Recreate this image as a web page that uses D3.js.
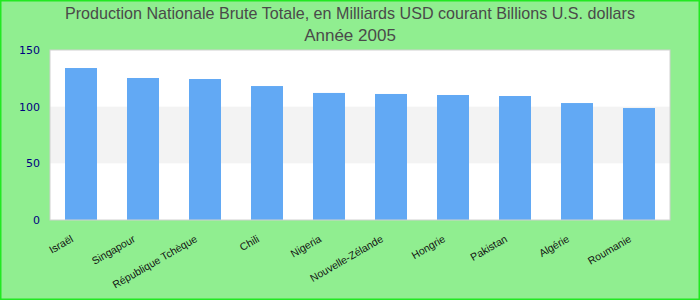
<!DOCTYPE html>
<html>
<head>
<meta charset="utf-8">
<script src="https://cdn.jsdelivr.net/npm/d3@7"></script>
<style>
  body { margin: 0; background: #fff; }
  svg { display: block; }
</style>
</head>
<body>
<div id="chart"></div>
<script>
// Chart data
let countries = ["Israël", "Singapour", "République Tchèque", "Chili", "Nigeria",
    "Nouvelle-Zélande", "Hongrie", "Pakistan", "Algérie", "Roumanie"];
let gdpValues = [134.1, 125.3, 124.4, 118.2, 112.1, 111.2, 110.3, 109.4, 103.2, 98.8];
let yTicks = [0, 50, 100, 150];
let titleLines = ["Production Nationale Brute Totale, en Milliards USD courant Billions U.S. dollars",
    "Année 2005"];

let width = 700, height = 300;
let margin = {top: 50, right: 30, bottom: 80, left: 50};
let plotW = width - margin.left - margin.right;
let plotH = height - margin.top - margin.bottom;

let svg = d3.select("#chart").append("svg")
    .attr("width", width)
    .attr("height", height);

// Background + frame
svg.append("rect")
    .attr("x", 0.5).attr("y", 0.5)
    .attr("width", width - 1).attr("height", height - 1)
    .attr("fill", "#90ee90")
    .attr("stroke", "#22e822")
    .attr("stroke-width", 2);

// Title (condensed first line)
svg.selectAll(".title")
    .data(titleLines)
    .enter().append("text")
        .attr("class", "title")
        .attr("x", width / 2)
        .attr("y", function(d, i) { return 19 + i * 22; })
        .attr("text-anchor", "middle")
        .attr("font-family", "Liberation Sans, Arial, sans-serif")
        .attr("font-size", "17px")
        .attr("fill", "#4a4a4a")
        .attr("textLength", function(d, i) { return i == 0 ? 570 : null; })
        .attr("lengthAdjust", "spacingAndGlyphs")
        .text(function(d) { return d; });

let g = svg.append("g")
    .attr("transform", "translate(" + margin.left + "," + margin.top + ")");

let x = d3.scaleBand()
    .domain(countries)
    .range([0, plotW])
    .paddingInner(0.484)
    .paddingOuter(0.242);

let y = d3.scaleLinear()
    .domain([0, 150])
    .range([plotH, 0]);

// Plot area with alternating band
g.append("rect")
    .attr("width", plotW)
    .attr("height", plotH)
    .attr("fill", "#fff");

g.append("rect")
    .attr("x", 0)
    .attr("y", y(100))
    .attr("width", plotW)
    .attr("height", y(50) - y(100))
    .attr("fill", "#f3f3f3");

// Bars
g.selectAll(".bar")
    .data(countries)
    .enter().append("rect")
        .attr("class", "bar")
        .attr("x", function(d) { return x(d); })
        .attr("y", function(d, i) { return y(gdpValues[i]); })
        .attr("width", x.bandwidth())
        .attr("height", function(d, i) { return plotH - y(gdpValues[i]); })
        .attr("fill", "#62a9f4");

g.append("rect")
    .attr("x", 0).attr("y", 0)
    .attr("width", plotW).attr("height", plotH)
    .attr("fill", "none")
    .attr("stroke", "#d0d0d0")
    .attr("stroke-width", 1);

// Y axis
let yAxis = d3.axisLeft(y)
    .tickValues(yTicks)
    .tickSize(0)
    .tickPadding(10);

let yG = g.append("g").call(yAxis);
yG.select(".domain").remove();
yG.selectAll("text")
    .attr("font-family", "DejaVu Sans, sans-serif")
    .attr("font-size", "11px")
    .attr("fill", "#000080");

// X labels
g.selectAll(".xlabel")
    .data(countries)
    .enter().append("text")
        .attr("class", "xlabel")
        .attr("transform", function(d) {
            return "translate(" + (x(d) + x.bandwidth() / 2 - 7) + "," + (plotH + 21) + ") rotate(-30)";
        })
        .attr("text-anchor", "end")
        .attr("font-family", "Liberation Sans, Arial, sans-serif")
        .attr("font-size", "10.5px")
        .attr("fill", "#111")
        .text(function(d) { return d; });
</script>
</body>
</html>
